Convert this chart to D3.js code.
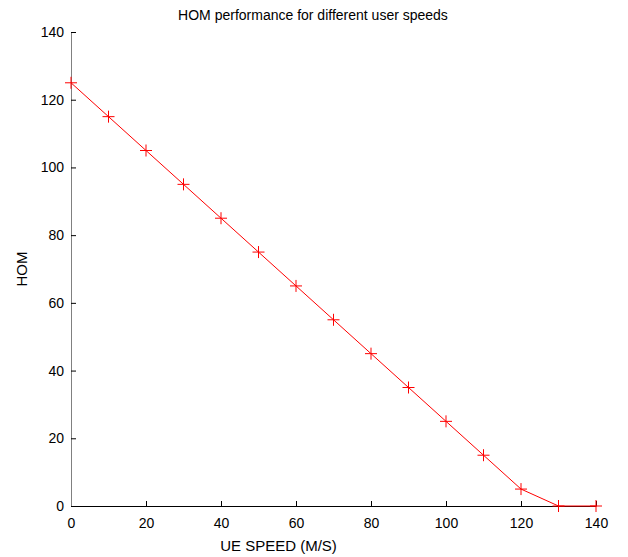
<!DOCTYPE html>
<html>
<head>
<meta charset="utf-8">
<script src="https://cdn.jsdelivr.net/npm/d3@7"></script>
<style>
  body { margin: 0; background: #fff; }
  text { font-family: "Liberation Sans", Arial, sans-serif; }
</style>
</head>
<body>
<svg id="chart" width="628" height="557"></svg>
<script>
// data
const speeds = [0, 10, 20, 30, 40, 50, 60, 70, 80, 90, 100, 110, 120, 130, 140];
const hom = [125, 115, 105, 95, 85, 75, 65, 55, 45, 35, 25, 15, 5, 0, 0];
const xTicks = [0, 20, 40, 60, 80, 100, 120, 140];
const yTicks = [0, 20, 40, 60, 80, 100, 120, 140];

const svg = d3.select("#chart");
const margin = { left: 71, right: 32, top: 32, bottom: 51 };
const width = 628, height = 557;

const x = d3.scaleLinear().domain([0, 140]).range([margin.left, width - margin.right]);
const y = d3.scaleLinear().domain([0, 140]).range([height - margin.bottom, margin.top]);

// x axis, ticks pointing inward
const xAxis = svg.append("g")
  .attr("transform", `translate(0,${y(0)})`)
  .call(d3.axisBottom(x).tickValues(xTicks).tickSizeInner(-5).tickSizeOuter(0).tickPadding(12));
xAxis.select(".domain").attr("stroke", "#000");
xAxis.selectAll("text").attr("font-size", 14).attr("fill", "#000");

// y axis
const yAxis = svg.append("g")
  .attr("transform", `translate(${x(0)},0)`)
  .call(d3.axisLeft(y).tickValues(yTicks).tickSizeInner(-5).tickSizeOuter(0).tickPadding(7));
yAxis.select(".domain").attr("stroke", "#808080");
yAxis.selectAll("text").attr("font-size", 14).attr("fill", "#000");

// line
const line = d3.line().x((d, i) => x(speeds[i])).y(d => y(d));
svg.append("path")
  .datum(hom)
  .attr("fill", "none")
  .attr("stroke", "#ff0000")
  .attr("stroke-width", 1)
  .attr("d", line);

// plus markers
const markers = svg.append("g").attr("stroke", "#ff0000").attr("stroke-width", 1);
hom.forEach((v, i) => {
  const cx = x(speeds[i]), cy = y(v);
  markers.append("line").attr("x1", cx - 6).attr("x2", cx + 6).attr("y1", cy).attr("y2", cy);
  markers.append("line").attr("x1", cx).attr("x2", cx).attr("y1", cy - 6).attr("y2", cy + 6);
});

// title and labels
svg.append("text")
  .attr("x", 313).attr("y", 20)
  .attr("text-anchor", "middle")
  .attr("font-size", 14)
  .text("HOM performance for different user speeds");

svg.append("text")
  .attr("x", (x(0) + x(140)) / 2 - 55).attr("y", 551)
  .attr("text-anchor", "middle")
  .attr("font-size", 15)
  .text("UE SPEED (M/S)");

svg.append("text")
  .attr("transform", `translate(27,${(y(0) + y(140)) / 2}) rotate(-90)`)
  .attr("text-anchor", "middle")
  .attr("font-size", 15)
  .text("HOM");
</script>
</body>
</html>
